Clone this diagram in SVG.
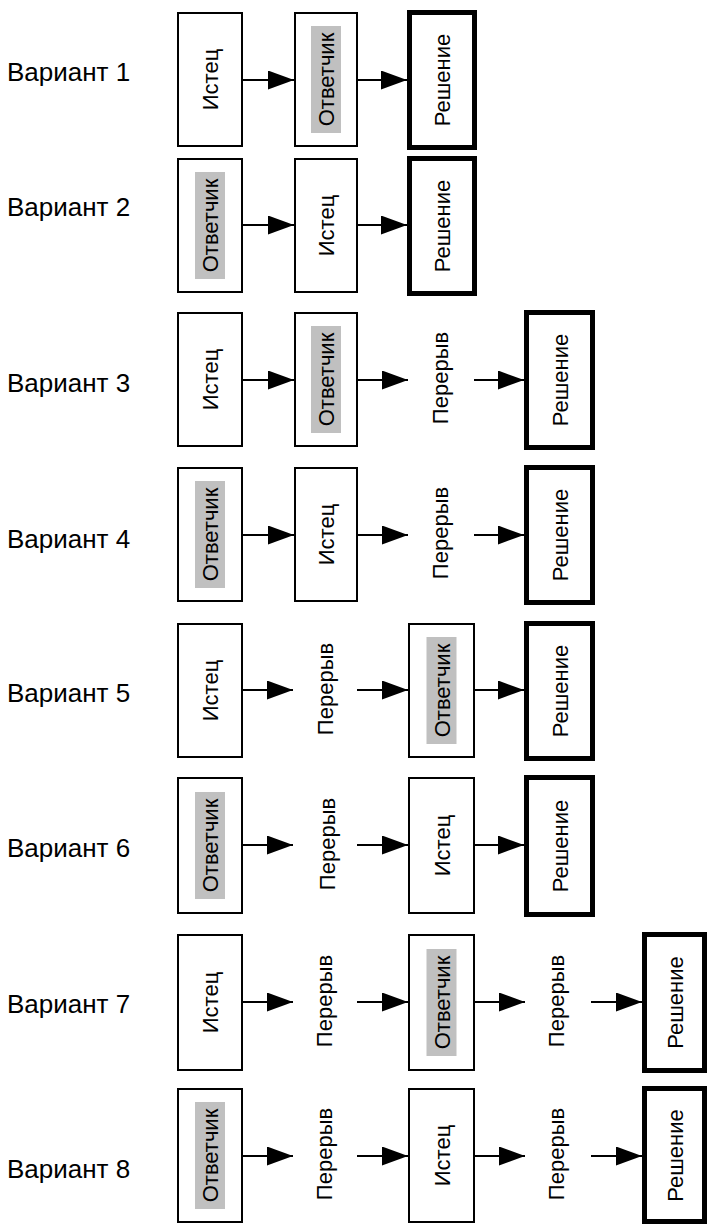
<svg xmlns="http://www.w3.org/2000/svg" width="708" height="1224" viewBox="0 0 708 1224">
<style>
.bg{fill:#fff}
.box{fill:#fff;stroke:#000;stroke-width:2}
.fin{fill:#fff;stroke:#000;stroke-width:5}
.hl{fill:#c0c0c0}
.t{font-family:"Liberation Sans",Arial,sans-serif;font-size:22px;text-anchor:middle;fill:#000}
.lbl{font-family:"Liberation Sans",Arial,sans-serif;font-size:26px;fill:#000}
.conn line{stroke:#000;stroke-width:2;marker-end:url(#ah)}
</style>
<defs>
<marker id="ah" markerUnits="userSpaceOnUse" markerWidth="27" markerHeight="19" refX="26" refY="9.5" orient="auto">
<path d="M0,0 L26,9.5 L0,19 Z" fill="#000"/>
</marker>
</defs>
<rect class="bg" x="0" y="0" width="708" height="1224"/>

<g id="labels">
<text class="lbl" x="7" y="81">Вариант 1</text>
<text class="lbl" x="7" y="216">Вариант 2</text>
<text class="lbl" x="7" y="392">Вариант 3</text>
<text class="lbl" x="7" y="548">Вариант 4</text>
<text class="lbl" x="7" y="702">Вариант 5</text>
<text class="lbl" x="7" y="857">Вариант 6</text>
<text class="lbl" x="7" y="1013">Вариант 7</text>
<text class="lbl" x="7" y="1178">Вариант 8</text>
</g>

<g id="connectors" class="conn">
<line x1="243" y1="80" x2="294" y2="80"/>
<line x1="358" y1="80" x2="407" y2="80"/>
<line x1="243" y1="225" x2="294" y2="225"/>
<line x1="358" y1="225" x2="407" y2="225"/>
<line x1="243" y1="380" x2="294" y2="380"/>
<line x1="358" y1="380" x2="408" y2="380"/>
<line x1="474" y1="380" x2="524" y2="380"/>
<line x1="243" y1="535" x2="294" y2="535"/>
<line x1="358" y1="535" x2="408" y2="535"/>
<line x1="474" y1="535" x2="524" y2="535"/>
<line x1="243" y1="690" x2="293" y2="690"/>
<line x1="357" y1="690" x2="408" y2="690"/>
<line x1="475" y1="690" x2="524" y2="690"/>
<line x1="243" y1="845" x2="293" y2="845"/>
<line x1="357" y1="845" x2="408" y2="845"/>
<line x1="475" y1="845" x2="524" y2="845"/>
<line x1="243" y1="1002" x2="293" y2="1002"/>
<line x1="357" y1="1002" x2="408" y2="1002"/>
<line x1="475" y1="1002" x2="525" y2="1002"/>
<line x1="591" y1="1002" x2="642" y2="1002"/>
<line x1="243" y1="1156" x2="293" y2="1156"/>
<line x1="357" y1="1156" x2="408" y2="1156"/>
<line x1="475" y1="1156" x2="525" y2="1156"/>
<line x1="591" y1="1156" x2="642" y2="1156"/>
</g>

<g id="r1-istec"><rect class="box" x="178" y="13" width="64" height="133"/><text class="t" transform="translate(210,79.5) rotate(-90)" y="8">Истец</text></g>
<g id="r1-otv"><rect class="box" x="295" y="13" width="62" height="133"/><rect class="hl" x="311" y="26" width="30" height="107"/><text class="t" transform="translate(326,79.5) rotate(-90)" y="8">Ответчик</text></g>
<g id="r1-resh"><rect class="fin" x="409.5" y="12.5" width="65" height="135"/><text class="t" transform="translate(442,80) rotate(-90)" y="8">Решение</text></g>

<g id="r2-otv"><rect class="box" x="178" y="159" width="64" height="133"/><rect class="hl" x="195" y="172" width="30" height="107"/><text class="t" transform="translate(210,225.5) rotate(-90)" y="8">Ответчик</text></g>
<g id="r2-istec"><rect class="box" x="295" y="159" width="62" height="133"/><text class="t" transform="translate(326,225.5) rotate(-90)" y="8">Истец</text></g>
<g id="r2-resh"><rect class="fin" x="409.5" y="158.5" width="65" height="135"/><text class="t" transform="translate(442,226) rotate(-90)" y="8">Решение</text></g>

<g id="r3-istec"><rect class="box" x="178" y="313" width="64" height="133"/><text class="t" transform="translate(210,379.5) rotate(-90)" y="8">Истец</text></g>
<g id="r3-otv"><rect class="box" x="295" y="313" width="62" height="133"/><rect class="hl" x="311" y="326" width="30" height="107"/><text class="t" transform="translate(326,379.5) rotate(-90)" y="8">Ответчик</text></g>
<g id="r3-per"><text class="t" transform="translate(440,378) rotate(-90)" y="8">Перерыв</text></g>
<g id="r3-resh"><rect class="fin" x="526.5" y="312.5" width="66" height="135"/><text class="t" transform="translate(559.5,380) rotate(-90)" y="8">Решение</text></g>

<g id="r4-otv"><rect class="box" x="178" y="468" width="64" height="133"/><rect class="hl" x="195" y="481" width="30" height="107"/><text class="t" transform="translate(210,534.5) rotate(-90)" y="8">Ответчик</text></g>
<g id="r4-istec"><rect class="box" x="295" y="468" width="62" height="133"/><text class="t" transform="translate(326,534.5) rotate(-90)" y="8">Истец</text></g>
<g id="r4-per"><text class="t" transform="translate(440,533) rotate(-90)" y="8">Перерыв</text></g>
<g id="r4-resh"><rect class="fin" x="526.5" y="467.5" width="66" height="135"/><text class="t" transform="translate(559.5,535) rotate(-90)" y="8">Решение</text></g>

<g id="r5-istec"><rect class="box" x="178" y="624" width="64" height="133"/><text class="t" transform="translate(210,690.5) rotate(-90)" y="8">Истец</text></g>
<g id="r5-per"><text class="t" transform="translate(325,689) rotate(-90)" y="8">Перерыв</text></g>
<g id="r5-otv"><rect class="box" x="409" y="624" width="65" height="133"/><rect class="hl" x="426.5" y="637" width="30" height="107"/><text class="t" transform="translate(441.5,690.5) rotate(-90)" y="8">Ответчик</text></g>
<g id="r5-resh"><rect class="fin" x="526.5" y="623.5" width="66" height="135"/><text class="t" transform="translate(559.5,691) rotate(-90)" y="8">Решение</text></g>

<g id="r6-otv"><rect class="box" x="178" y="778" width="64" height="135"/><rect class="hl" x="195" y="792" width="30" height="107"/><text class="t" transform="translate(210,845.5) rotate(-90)" y="8">Ответчик</text></g>
<g id="r6-per"><text class="t" transform="translate(327,844) rotate(-90)" y="8">Перерыв</text></g>
<g id="r6-istec"><rect class="box" x="409" y="778" width="65" height="135"/><text class="t" transform="translate(441.5,845.5) rotate(-90)" y="8">Истец</text></g>
<g id="r6-resh"><rect class="fin" x="526.5" y="777.5" width="66" height="137"/><text class="t" transform="translate(559.5,846) rotate(-90)" y="8">Решение</text></g>

<g id="r7-istec"><rect class="box" x="178" y="935" width="64" height="135"/><text class="t" transform="translate(210,1002.5) rotate(-90)" y="8">Истец</text></g>
<g id="r7-per1"><text class="t" transform="translate(324,1001) rotate(-90)" y="8">Перерыв</text></g>
<g id="r7-otv"><rect class="box" x="409" y="935" width="65" height="135"/><rect class="hl" x="426.5" y="949" width="30" height="107"/><text class="t" transform="translate(441.5,1002.5) rotate(-90)" y="8">Ответчик</text></g>
<g id="r7-per2"><text class="t" transform="translate(556,1001) rotate(-90)" y="8">Перерыв</text></g>
<g id="r7-resh"><rect class="fin" x="644.5" y="934.5" width="60" height="136"/><text class="t" transform="translate(674.5,1002.5) rotate(-90)" y="8">Решение</text></g>

<g id="r8-otv"><rect class="box" x="178" y="1089" width="64" height="133"/><rect class="hl" x="195" y="1102" width="30" height="107"/><text class="t" transform="translate(210,1155.5) rotate(-90)" y="8">Ответчик</text></g>
<g id="r8-per1"><text class="t" transform="translate(324,1154) rotate(-90)" y="8">Перерыв</text></g>
<g id="r8-istec"><rect class="box" x="409" y="1089" width="65" height="133"/><text class="t" transform="translate(441.5,1155.5) rotate(-90)" y="8">Истец</text></g>
<g id="r8-per2"><text class="t" transform="translate(556,1154) rotate(-90)" y="8">Перерыв</text></g>
<g id="r8-resh"><rect class="fin" x="644.5" y="1088.5" width="60" height="133"/><text class="t" transform="translate(674.5,1155.5) rotate(-90)" y="8">Решение</text></g>
</svg>
